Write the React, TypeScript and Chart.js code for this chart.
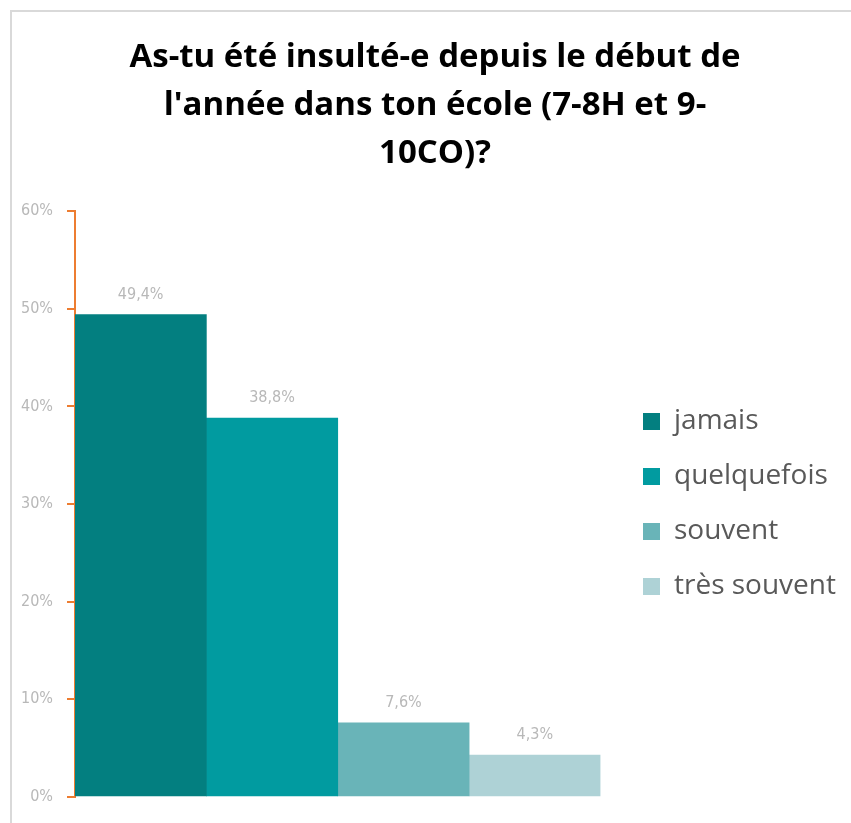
import React, { useEffect, useRef } from "react";
import { Chart, registerables } from "chart.js";

Chart.register(...registerables);

const titleLines = [
  "As-tu été insulté-e depuis le début de",
  "l'année dans ton école (7-8H et 9-",
  "10CO)?",
];
const categories = [""];
const seriesNames = ["jamais", "quelquefois", "souvent", "très souvent"];
const seriesValues = [49.4, 38.8, 7.6, 4.3];
const seriesColors = ["#037f80", "#019ba0", "#69b4b8", "#aed2d6"];
const yTicks = { min: 0, max: 60, step: 10 };

const tickFont = { family: "'DejaVu Sans Condensed', sans-serif", size: 16 };
const tickColor = "#b8b8b8";
const axisOrange = "#ed7d31";
const legendPadding = 27;

const fmt = (v: number) => v.toFixed(1).replace(".", ",") + "%";

const valueLabels = {
  id: "valueLabels",
  afterLayout(chart: any) {
    const lg = chart.legend;
    if (lg) {
      lg.left = 643 - legendPadding;
      lg.right = chart.width - 4;
      lg.width = lg.right - lg.left;
    }
    const tb = chart.titleBlock;
    if (tb) {
      const shift = 435 - (tb.left + tb.right) / 2;
      tb.left += shift;
      tb.right += shift;
    }
  },
  afterDatasetsDraw(chart: any) {
    const ctx = chart.ctx;
    ctx.save();
    ctx.font = `${tickFont.size}px ${tickFont.family}`;
    ctx.fillStyle = tickColor;
    ctx.textAlign = "center";
    ctx.textBaseline = "alphabetic";
    chart.data.datasets.forEach((ds: any, i: number) => {
      const meta = chart.getDatasetMeta(i);
      meta.data.forEach((bar: any, j: number) => {
        ctx.fillText(fmt(ds.data[j]), bar.x, bar.y - 16);
      });
    });
    ctx.restore();
  },
};

export default function App() {
  const ref = useRef<HTMLCanvasElement | null>(null);
  useEffect(() => {
    if (!ref.current) return;
    const chart = new Chart(ref.current, {
      type: "bar",
      data: {
        labels: categories,
        datasets: seriesNames.map((name, i) => ({
          label: name,
          data: [seriesValues[i]],
          backgroundColor: seriesColors[i],
          borderWidth: 0,
          categoryPercentage: 1,
          barPercentage: 1,
        })),
      },
      options: {
        animation: false,
        responsive: false,
        maintainAspectRatio: false,
        layout: { padding: { left: 20, right: 57, top: 34, bottom: 26 } },
        plugins: {
          title: {
            display: true,
            text: titleLines,
            font: { family: "'Open Sans', sans-serif", size: 33, weight: "bold", lineHeight: 1.455 },
            color: "#000000",
            padding: { top: 0, bottom: 33 },
          },
          legend: {
            position: "right",
            fullSize: false,
            labels: {
              font: { family: "'Open Sans', sans-serif", size: 28 },
              color: "#595959",
              boxWidth: 17,
              boxHeight: 17,
              padding: legendPadding,
            },
          },
          tooltip: { enabled: false },
        },
        scales: {
          x: { display: false },
          y: {
            min: yTicks.min,
            max: yTicks.max,
            ticks: {
              stepSize: yTicks.step,
              font: tickFont,
              color: tickColor,
              padding: 14,
              callback: (v: any) => v + "%",
            },
            grid: { drawOnChartArea: false, tickColor: axisOrange, tickLength: 8, lineWidth: 2 },
            border: { color: axisOrange, width: 2 },
            afterFit: (s: any) => {
              s.width = 55;
            },
          },
        },
      },
      plugins: [valueLabels],
    });
    return () => chart.destroy();
  }, []);
  return (
    <div style={{ position: "absolute", left: 0, top: 0, width: 851, height: 823, background: "#fff" }}>
      <div
        style={{
          position: "absolute",
          left: 10,
          top: 10,
          width: 841,
          height: 813,
          borderTop: "2px solid #d9d9d9",
          borderLeft: "2px solid #d9d9d9",
          boxSizing: "border-box",
        }}
      />
      <canvas ref={ref} width={851} height={823} style={{ position: "absolute", left: 0, top: 0 }} />
    </div>
  );
}
